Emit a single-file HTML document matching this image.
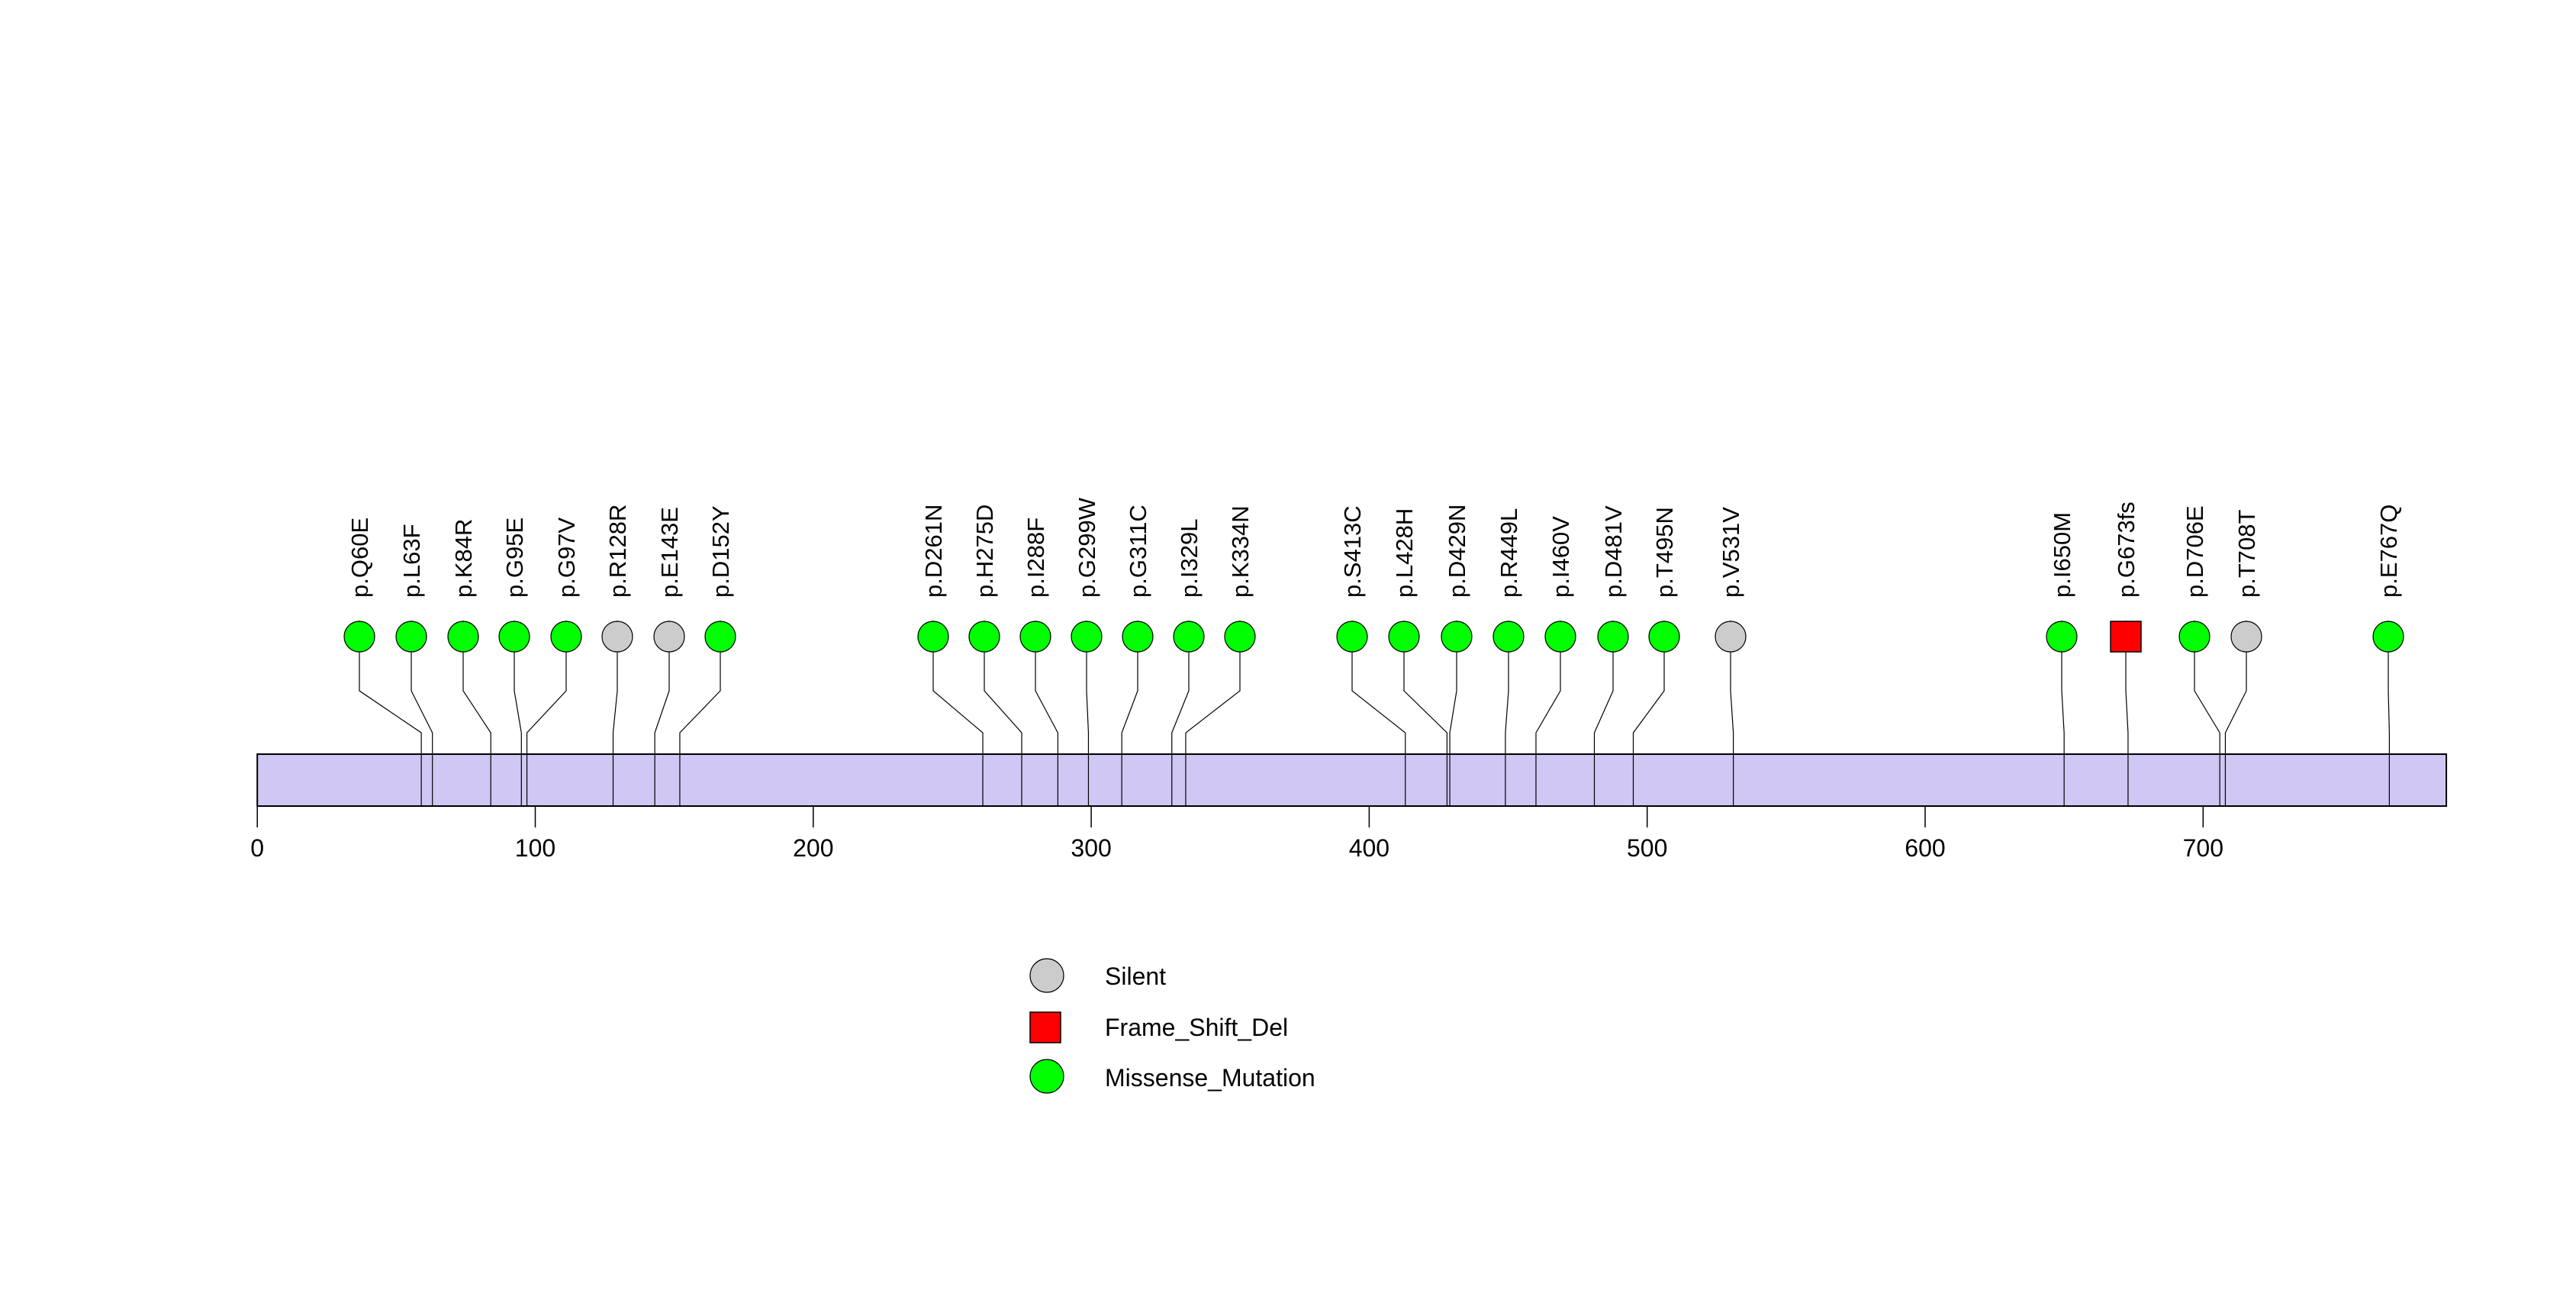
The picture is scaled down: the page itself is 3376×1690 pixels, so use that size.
<!DOCTYPE html>
<html><head><meta charset="utf-8"><style>
html,body{margin:0;padding:0;background:#fff;}
svg{display:block;font-family:"Liberation Sans",sans-serif;}
</style></head><body>
<svg width="3376" height="1690" viewBox="0 0 3376 1690">
<g id="plot"></g>
</svg>
<script>
const labels=["p.Q60E","p.L63F","p.K84R","p.G95E","p.G97V","p.R128R","p.E143E","p.D152Y","p.D261N","p.H275D","p.I288F","p.G299W","p.G311C","p.I329L","p.K334N","p.S413C","p.L428H","p.D429N","p.R449L","p.I460V","p.D481V","p.T495N","p.V531V","p.I650M","p.G673fs","p.D706E","p.T708T","p.E767Q"];
const positions=[59,63,84,95,97,128,143,152,261,275,288,299,311,329,334,413,428,429,449,460,481,495,531,650,673,706,708,767];
const types=["M","M","M","M","M","S","S","M","M","M","M","M","M","M","M","M","M","M","M","M","M","M","S","M","F","M","S","M"];
const headX=[471,539,607,674,742,809,877,944,1223,1290,1357,1424,1491,1558,1625,1772,1840,1909,1977,2045,2114,2181,2268,2702,2786,2876,2944,3130];
const ticks=[0,100,200,300,400,500,600,700];
const protLen=787.5;
const svgNS="http://www.w3.org/2000/svg";
const g=document.getElementById('plot');
const X=v=>337.2+v*3.643;
const col={M:"#00ff00",S:"#cccccc",F:"#ff0000"};
function mk(t,a){const e=document.createElementNS(svgNS,t);for(const k in a)e.setAttribute(k,a[k]);g.appendChild(e);return e;}
let bar=mk('rect',{x:X(0),y:988,width:X(protLen)-X(0),height:68,fill:"#d1c7f5",stroke:"#000","stroke-width":2});


ticks.forEach(t=>{
 const l=mk('line',{x1:X(t),x2:X(t),y1:1056,y2:1084,stroke:"#000","stroke-width":1.5});
 
 
 const tx=mk('text',{x:X(t),y:1122,"text-anchor":"middle","font-size":32});
 tx.textContent=t;
 
 
});
positions.forEach((p,i)=>{
 const hx=headX[i],px=X(p);
 const s=mk('polyline',{points:`${hx},813 ${hx},905 ${px},960 ${px},1056`,fill:"none",stroke:"#000","stroke-width":1.2});
 
 
});
positions.forEach((p,i)=>{
 const hx=headX[i];let h;
 if(types[i]==="F"){h=mk('rect',{x:hx-20,y:814,width:40,height:40,fill:col.F,stroke:"#000","stroke-width":1.5});}
 else{h=mk('circle',{cx:hx,cy:834,r:20,fill:col[types[i]],stroke:"#000","stroke-width":1.2});}
 
 
 const t=mk('text',{x:0,y:0,"font-size":31,transform:`translate(${hx+11},783) rotate(-90)`});
 t.textContent=labels[i];
 
 
});
const leg=[["S","Silent",1278,1290],["F","Frame_Shift_Del",1346,1357],["M","Missense_Mutation",1410,1423]];
leg.forEach(([k,name,cy,by])=>{
 let m;
 if(k==="F")m=mk('rect',{x:1350,y:cy-20,width:40,height:40,fill:col.F,stroke:"#000","stroke-width":1.5});
 else m=mk('circle',{cx:1372,cy:cy,r:22,fill:col[k],stroke:"#000","stroke-width":1.2});
 
 
 const t=mk('text',{x:1448,y:by,"font-size":32});
 t.textContent=name;
 
 
});
</script>
</body></html>
